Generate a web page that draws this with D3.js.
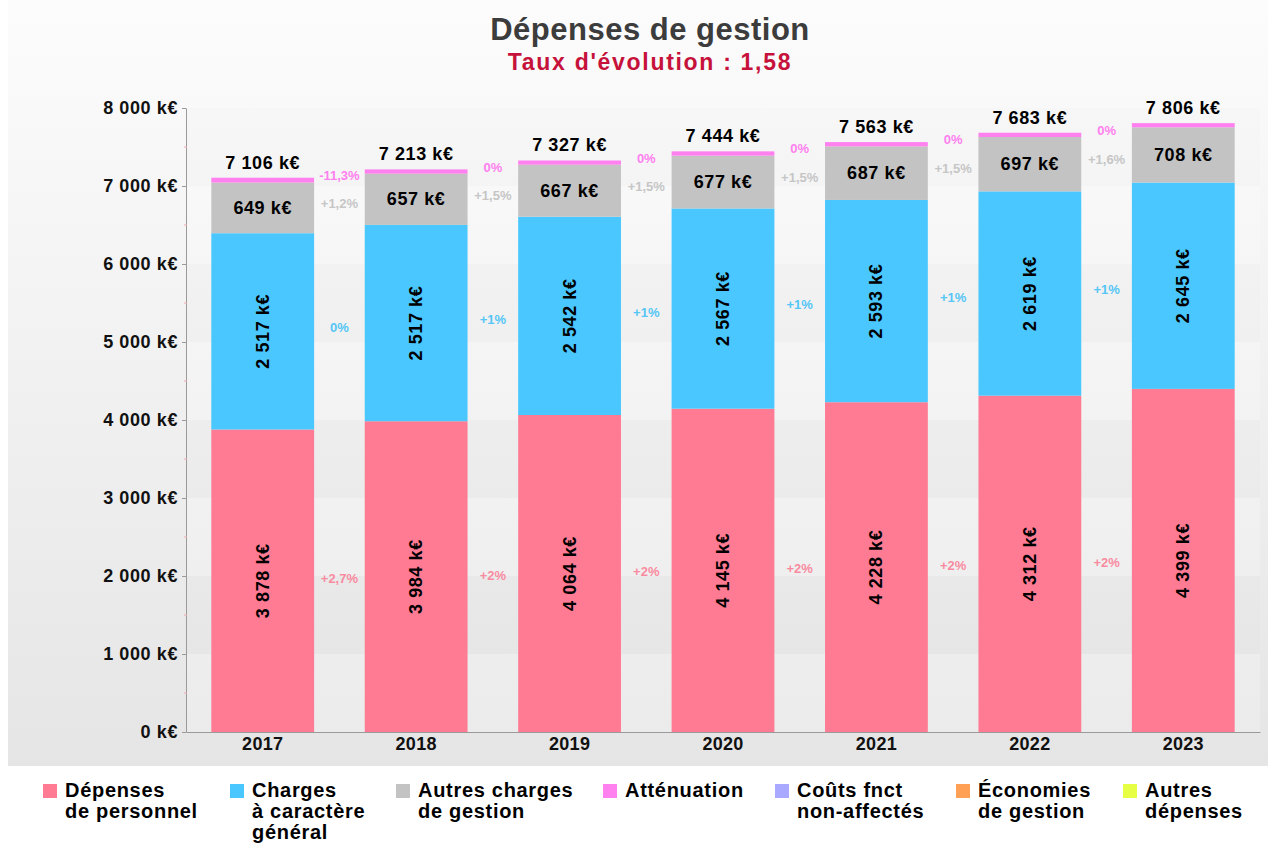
<!DOCTYPE html>
<html lang="fr">
<head>
<meta charset="utf-8">
<title>Dépenses de gestion</title>
<script src="https://cdn.jsdelivr.net/npm/d3@7/dist/d3.min.js"></script>
<style>
  html, body { margin: 0; padding: 0; background: #ffffff; }
  svg { display: block; font-family: "Liberation Sans", Arial, Helvetica, sans-serif; }
</style>
</head>
<body>
<svg id="chart" width="1276" height="844"></svg>
<script>
// ---- Données (k€) ----
const years = ["2017", "2018", "2019", "2020", "2021", "2022", "2023"];
const personnel = [3878, 3984, 4064, 4145, 4228, 4312, 4399];
const chargesGenerales = [2517, 2517, 2542, 2567, 2593, 2619, 2645];
const autresCharges = [649, 657, 667, 677, 687, 697, 708];
const attenuation = [62, 55, 54, 55, 55, 55, 54];

// Taux d'évolution d'une année à l'autre, par poste
const evolPersonnel = ["+2,7%", "+2%", "+2%", "+2%", "+2%", "+2%"];
const evolCharges = ["0%", "+1%", "+1%", "+1%", "+1%", "+1%"];
const evolAutres = ["+1,2%", "+1,5%", "+1,5%", "+1,5%", "+1,5%", "+1,6%"];
const evolAttenuation = ["-11,3%", "0%", "0%", "0%", "0%", "0%"];

const yTicks = [0, 1000, 2000, 3000, 4000, 5000, 6000, 7000, 8000];
const yMinorTicks = [500, 1500, 2500, 3500, 4500, 5500, 6500, 7500];

const legendLabels = [
  ["Dépenses", "de personnel"],
  ["Charges", "à caractère", "général"],
  ["Autres charges", "de gestion"],
  ["Atténuation"],
  ["Coûts fnct", "non-affectés"],
  ["Économies", "de gestion"],
  ["Autres", "dépenses"]
];

const titre = "Dépenses de gestion";
const sousTitre = "Taux d'évolution : 1,58";

// ---- Styles ----
const seriesKeys = ["personnel", "charges", "autres", "attenuation"];
const seriesColors = { personnel: "#ff7b93", charges: "#4ac7fe", autres: "#c3c3c3", attenuation: "#ff80ef" };
const evolColors = { personnel: "#f98ba0", charges: "#55c6f6", autres: "#c6c6c6", attenuation: "#ff80ef" };
const legendColors = ["#ff7b93", "#4ac7fe", "#c3c3c3", "#ff80ef", "#a9a9ff", "#ffa055", "#e6fe44"];

const locale = d3.formatLocale({ decimal: ",", thousands: " ", grouping: [3], currency: ["", ""] });
const fmt = locale.format(",d");
const keur = v => `${fmt(v)} k€`;

const rows = years.map((yr, i) => ({
  year: yr,
  personnel: personnel[i],
  charges: chargesGenerales[i],
  autres: autresCharges[i],
  attenuation: attenuation[i]
}));
const stacked = d3.stack().keys(seriesKeys)(rows);
const totals = rows.map(r => seriesKeys.reduce((s, k) => s + r[k], 0));

const svg = d3.select("#chart");
const defs = svg.append("defs");

// Fond du panneau : dégradé vertical clair → gris
const grad = defs.append("linearGradient").attr("id", "panelGrad")
  .attr("x1", 0).attr("y1", 0).attr("x2", 0).attr("y2", 1);
grad.append("stop").attr("offset", "0%").attr("stop-color", "#fcfcfc");
grad.append("stop").attr("offset", "100%").attr("stop-color", "#e5e5e5");
svg.append("rect").attr("x", 8).attr("y", 0).attr("width", 1260).attr("height", 766)
  .attr("fill", "url(#panelGrad)");

// ---- Échelles ----
const plotLeft = 186, plotRight = 1260, plotTop = 108, plotBottom = 732;
const x = d3.scaleBand().domain(years).range([plotLeft, plotRight])
  .paddingInner(0.33).paddingOuter(0.165);
const y = d3.scaleLinear().domain([0, 8000]).range([plotBottom, plotTop]);

// Bandes horizontales alternées de la zone de tracé
const bands = d3.range(0, 8000, 1000);
svg.append("g").selectAll("rect").data(bands).join("rect")
  .attr("x", plotLeft).attr("width", plotRight - plotLeft)
  .attr("y", d => y(d + 1000)).attr("height", d => y(d) - y(d + 1000))
  .attr("fill", d => (d / 1000) % 2 === 0 ? "#ffffff" : "#000000")
  .attr("fill-opacity", d => (d / 1000) % 2 === 0 ? 0.22 : 0.008);

// ---- Titres ----
svg.append("text").attr("x", 650).attr("y", 40).attr("text-anchor", "middle")
  .attr("font-size", 31).attr("font-weight", "bold").attr("fill", "#3c3c3c")
  .attr("letter-spacing", 0.5).text(titre);
svg.append("text").attr("x", 650).attr("y", 70).attr("text-anchor", "middle")
  .attr("font-size", 23).attr("font-weight", "bold").attr("fill", "#c6123a")
  .attr("letter-spacing", 1.7).text(sousTitre);

// ---- Barres empilées ----
const barG = svg.append("g");
stacked.forEach(layer => {
  barG.append("g").attr("fill", seriesColors[layer.key])
    .selectAll("rect").data(layer).join("rect")
    .attr("x", d => x(d.data.year))
    .attr("width", x.bandwidth())
    .attr("y", d => y(d[1]))
    .attr("height", d => y(d[0]) - y(d[1]));
});

// ---- Axes ----
const axisColor = "#9a9a9a";
const yAxis = svg.append("g").attr("transform", `translate(${plotLeft},0)`)
  .call(d3.axisLeft(y).tickValues(yTicks).tickFormat(keur).tickSize(4).tickSizeOuter(0).tickPadding(4));
yAxis.select(".domain").attr("stroke", axisColor);
yAxis.selectAll(".tick line").attr("stroke", axisColor);
yAxis.selectAll(".tick text").attr("font-size", 18).attr("font-weight", "bold")
  .attr("fill", "#111").attr("letter-spacing", 0.6)
  .attr("font-family", "'Liberation Sans', Arial, sans-serif");

svg.append("g").selectAll("line").data(yMinorTicks).join("line")
  .attr("x1", plotLeft - 2).attr("x2", plotLeft + 1)
  .attr("y1", d => y(d)).attr("y2", d => y(d))
  .attr("stroke", "#f2a9b4").attr("stroke-width", 1);

const xAxis = svg.append("g").attr("transform", `translate(0,${plotBottom})`)
  .call(d3.axisBottom(x).tickSize(0).tickSizeOuter(0).tickPadding(5));
xAxis.select(".domain").attr("stroke", axisColor);
xAxis.selectAll(".tick text").attr("font-size", 18).attr("font-weight", "bold")
  .attr("fill", "#111").attr("letter-spacing", 0.3)
  .attr("font-family", "'Liberation Sans', Arial, sans-serif");

// ---- Étiquettes de valeurs ----
const labelG = svg.append("g").attr("font-weight", "bold").attr("fill", "#000")
  .attr("font-size", 18).attr("letter-spacing", 0.6);
const cx = d => x(d.data.year) + x.bandwidth() / 2;
const mid = d => y((d[0] + d[1]) / 2);

// Postes verticaux (personnel, charges générales)
["personnel", "charges"].forEach(key => {
  const layer = stacked.find(l => l.key === key);
  labelG.append("g").selectAll("text").data(layer).join("text")
    .attr("transform", d => `translate(${cx(d)},${mid(d)}) rotate(-90)`)
    .attr("text-anchor", "middle").attr("dominant-baseline", "central")
    .text(d => keur(d[1] - d[0]));
});

// Autres charges de gestion (horizontal)
const autresLayer = stacked.find(l => l.key === "autres");
labelG.append("g").selectAll("text").data(autresLayer).join("text")
  .attr("x", cx).attr("y", mid)
  .attr("text-anchor", "middle").attr("dominant-baseline", "central")
  .text(d => keur(d[1] - d[0]));

// Totaux au-dessus des barres
labelG.append("g").selectAll("text").data(years).join("text")
  .attr("x", d => x(d) + x.bandwidth() / 2)
  .attr("y", (d, i) => y(totals[i]) - 9)
  .attr("text-anchor", "middle")
  .text((d, i) => keur(totals[i]));

// ---- Taux d'évolution entre deux barres ----
const evolByKey = { personnel: evolPersonnel, charges: evolCharges, autres: evolAutres, attenuation: evolAttenuation };
const evolG = svg.append("g").attr("font-size", 13).attr("font-weight", "bold");
seriesKeys.forEach(key => {
  const layer = stacked.find(l => l.key === key);
  const labels = evolByKey[key];
  evolG.append("g").attr("fill", evolColors[key])
    .selectAll("text").data(labels).join("text")
    .attr("x", (d, i) => (cx(layer[i]) + cx(layer[i + 1])) / 2)
    .attr("y", (d, i) => (mid(layer[i]) + mid(layer[i + 1])) / 2)
    .attr("text-anchor", "middle").attr("dominant-baseline", "central")
    .text(d => d);
});

// ---- Légende ----
const legendX = [43, 230, 396, 603, 775, 956, 1123];
const legend = svg.append("g").attr("font-size", 20).attr("font-weight", "bold")
  .attr("fill", "#000").attr("letter-spacing", 0.7);
legendLabels.forEach((lines, i) => {
  const g = legend.append("g").attr("transform", `translate(${legendX[i]},0)`);
  g.append("rect").attr("x", 0).attr("y", 784).attr("width", 14).attr("height", 14)
    .attr("fill", legendColors[i]);
  g.append("text").attr("x", 22).attr("y", 797)
    .selectAll("tspan").data(lines).join("tspan")
    .attr("x", 22).attr("dy", (d, j) => j === 0 ? 0 : 21)
    .text(d => d);
});
</script>
</body>
</html>
